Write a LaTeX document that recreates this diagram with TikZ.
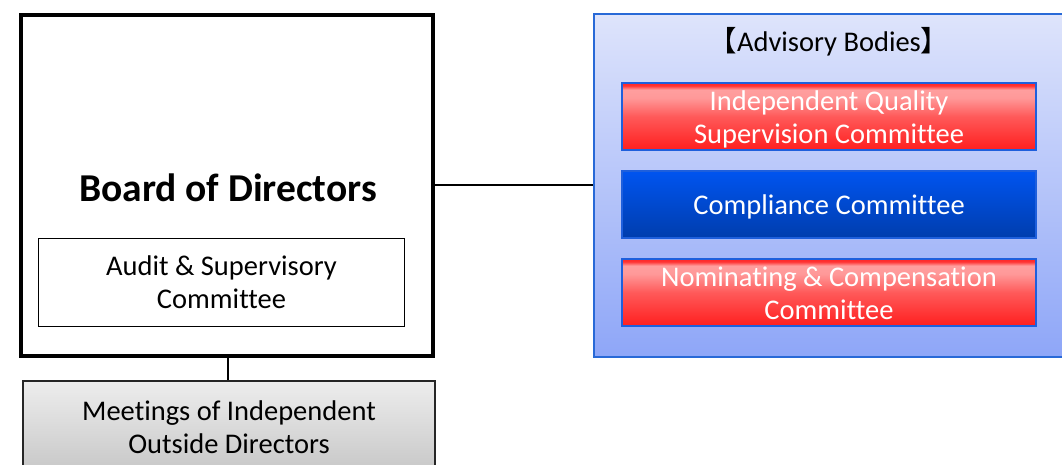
\documentclass[tikz,border=0pt]{standalone}
\usepackage{fontspec}
\setmainfont[Ligatures=NoCommon]{Carlito}
\newfontfamily\cjkf{Noto Sans CJK JP}
\definecolor{advtop}{RGB}{222,228,251}
\definecolor{advbot}{RGB}{142,166,248}
\definecolor{advline}{RGB}{40,105,215}
\definecolor{boxline}{RGB}{30,95,220}
\pgfdeclareverticalshading{redshade}{100bp}{
  rgb(0bp)=(1,0.12,0.12); rgb(25bp)=(1,0.12,0.12); rgb(50bp)=(1,0.35,0.35);
  rgb(64bp)=(1,0.6,0.6); rgb(70bp)=(1,0.62,0.62); rgb(73bp)=(1,0.2,0.2); rgb(75bp)=(1,0.15,0.15); rgb(100bp)=(1,0.15,0.15)}
\pgfdeclareverticalshading{blueshade}{100bp}{
  rgb(0bp)=(0,0.24,0.68); rgb(25bp)=(0,0.24,0.68); rgb(75bp)=(0,0.33,0.94); rgb(100bp)=(0,0.33,0.94)}
\pgfdeclareverticalshading{grayshade}{100bp}{
  rgb(0bp)=(0.76,0.76,0.76); rgb(25bp)=(0.78,0.78,0.78); rgb(75bp)=(0.93,0.93,0.93); rgb(100bp)=(0.93,0.93,0.93)}
\newcommand{\twolines}[2]{\raisebox{-4pt}[\height][\depth]{\begin{tabular}{@{}c@{}}#1\\#2\end{tabular}}}
\newcommand{\oneline}[1]{\raisebox{-2pt}[\height][\depth]{#1}}
\tikzset{
  txt/.style={font=\fontsize{28.5}{33}\selectfont, align=center},
  redbox/.style={draw=boxline, line width=2pt, shading=redshade, minimum width=414pt, minimum height=67pt, inner sep=0pt, txt, text=white},
  bluebox/.style={draw=boxline, line width=2pt, shading=blueshade, minimum width=414pt, minimum height=67pt, inner sep=0pt, txt, text=white},
  conn/.style={line width=2pt, black}
}
\begin{document}
\begin{tikzpicture}[x=1pt,y=1pt]
\useasboundingbox (0,0) rectangle (1062,-465);
% Board of Directors
\node[draw, line width=4pt, minimum width=412pt, minimum height=341pt, inner sep=0pt] (board) at (227,-185.5) {};
\node[font=\fontsize{39.5}{44}\selectfont\bfseries, inner sep=0pt] (boardlbl) at (228,-188) {Board of Directors};
\node[draw, line width=1.3pt, minimum width=366pt, minimum height=88pt, inner sep=0pt, txt] (audit) at (221.5,-282.5) {Audit \& Supervisory\\Committee};
% Meetings
\node[draw=black!85, line width=2pt, shading=grayshade, minimum width=412pt, minimum height=92pt, inner sep=0pt, txt] (meet) at (229,-427) {Meetings of Independent\\Outside Directors};
% Advisory bodies
\node[draw=advline, line width=2pt, top color=advtop, bottom color=advbot, minimum width=470pt, minimum height=343pt, inner sep=0pt] (adv) at (829,-185.5) {};
\node[txt, text=black, inner sep=0pt] (advlbl) at (829,-42) {{\cjkf 【}Advisory Bodies{\cjkf 】}};
\node[redbox] (iqsc) at (829,-116.5) {\twolines{Independent Quality}{Supervision Committee}};
\node[bluebox] (comp) at (829,-204.5) {\oneline{Compliance Committee}};
\node[redbox] (ncc) at (829,-292.5) {\twolines{Nominating \& Compensation}{Committee}};
% connectors
\draw[conn] (board.east |- 0,-185) -- (adv.west |- 0,-185);
\draw[conn] (board.south -| 228,0) -- (meet.north -| 228,0);
\end{tikzpicture}
\end{document}
